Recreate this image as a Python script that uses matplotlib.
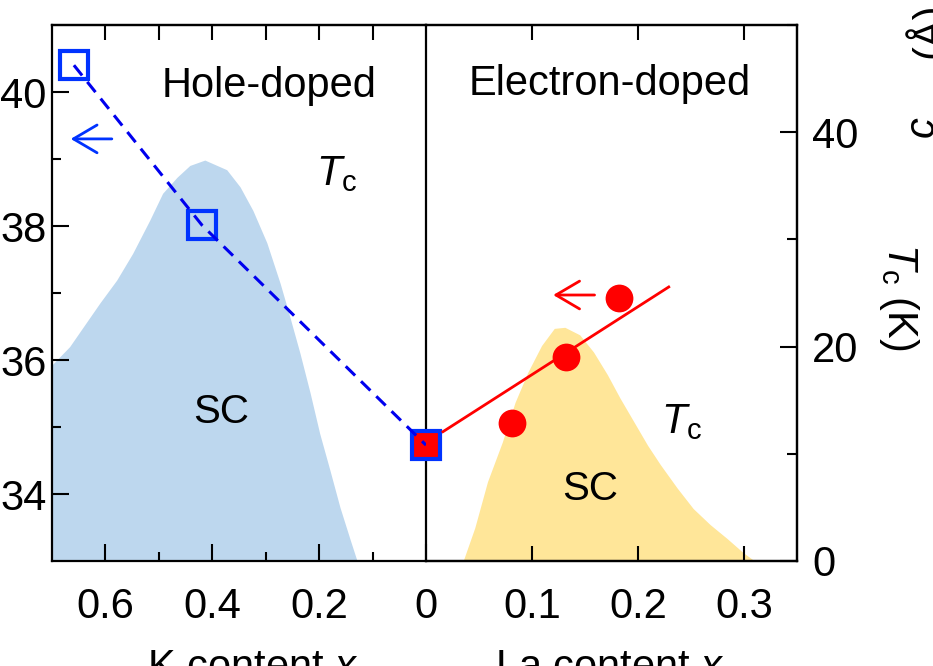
import matplotlib
matplotlib.use("Agg")
import matplotlib.pyplot as plt

plt.rcParams['font.family'] = ['Liberation Sans', 'DejaVu Sans']
plt.rcParams['mathtext.fontset'] = 'custom'
plt.rcParams['mathtext.rm'] = 'Liberation Sans'
plt.rcParams['mathtext.it'] = 'Liberation Sans:italic'
plt.rcParams['font.size'] = 30

###############################################################
# data
###############################################################
# hole-doped side (K content x), c-axis length in Angstrom
k_x = [0.659, 0.419, 0.0]
k_c = [40.40, 38.01, 34.73]

# hole-doped Tc dome
k_dome_x  = [0.700, 0.667, 0.642, 0.610, 0.579, 0.549, 0.517, 0.493, 0.466, 0.442,
             0.414, 0.373, 0.348, 0.324, 0.298, 0.273, 0.255, 0.236, 0.217, 0.199,
             0.180, 0.161, 0.142, 0.129]
k_dome_tc = [18.3, 20.0, 21.8, 24.1, 26.2, 28.7, 31.8, 34.3, 35.8, 36.9,
             37.4, 36.5, 34.9, 32.7, 29.7, 25.9, 22.8, 19.4, 15.7, 11.9,
             8.5, 5.0, 2.0, 0.0]

# parent compound (x = 0)
parent_c = 34.73

# electron-doped side (La content x)
la_x = [0.081, 0.132, 0.182]
la_c = [35.06, 36.04, 36.93]
la_fit_x = [0.016, 0.229]
la_fit_c = [34.93, 37.09]

# electron-doped Tc dome
la_dome_x  = [0.035, 0.046, 0.058, 0.072, 0.084, 0.096, 0.109, 0.121, 0.131, 0.145,
              0.158, 0.171, 0.183, 0.196, 0.209, 0.221, 0.237, 0.252, 0.268, 0.284,
              0.299, 0.310]
la_dome_tc = [0.0, 3.1, 7.4, 11.1, 14.8, 17.6, 20.1, 21.7, 21.8, 21.1,
              19.5, 17.4, 15.2, 13.0, 10.8, 9.0, 6.8, 4.9, 3.4, 2.1,
              0.8, 0.0]

k_ticks = [0.6, 0.4, 0.2, 0.0]
k_tick_labels = ['0.6', '0.4', '0.2', '0']
la_ticks = [0.1, 0.2, 0.3]
la_tick_labels = ['0.1', '0.2', '0.3']
c_ticks = [34, 36, 38, 40]
tc_ticks = [0, 20, 40]

blue_fill = '#BDD7EE'
yellow_fill = '#FFE699'
blue = '#0033FF'
red = '#FF0000'

###############################################################
# axes
###############################################################
W, H = 933, 666
fig = plt.figure(figsize=(W / 100, H / 100), dpi=100)

axL = fig.add_axes([52 / W, 105 / H, 374 / W, 536 / H])
axR = fig.add_axes([426 / W, 105 / H, 371 / W, 536 / H])
tL = axL.twinx()
tR = axR.twinx()

for ax, t in ((axL, tL), (axR, tR)):
    t.set_zorder(0)
    ax.set_zorder(1)
    ax.patch.set_visible(False)
    for s in list(ax.spines.values()) + list(t.spines.values()):
        s.set_linewidth(1.6)

tick_kw = dict(direction='in', width=1.5, color='black')

# left panel: hole-doped
axL.set_xlim(0.7, 0.0)
axL.set_ylim(33, 41)
axL.set_xticks(k_ticks, k_tick_labels)
axL.set_xticks([0.5, 0.3, 0.1], minor=True)
axL.set_yticks(c_ticks)
axL.set_yticks([35, 37, 39], minor=True)
axL.tick_params(which='major', length=12, pad=4, **tick_kw)
axL.tick_params(which='minor', length=6.5, **tick_kw)
axL.tick_params(axis='x', which='major', pad=19)
axL.tick_params(right=False, top=False, which='both')
axL.spines['right'].set_zorder(3)

topL = axL.secondary_xaxis('top')
topL.set_xticks([0.6, 0.5, 0.4, 0.3, 0.2, 0.1])
topL.tick_params(length=11, labeltop=False, **tick_kw)
topL.spines['top'].set_linewidth(1.6)

tL.set_ylim(0, 50)
tL.set_yticks([])
for s in tL.spines.values():
    s.set_visible(False)

# right panel: electron-doped
axR.set_xlim(0.0, 0.35)
axR.set_ylim(33, 41)
axR.set_xticks(la_ticks, la_tick_labels)
axR.set_yticks([])
axR.tick_params(which='major', length=11, pad=19, top=True, **tick_kw)
axR.spines['left'].set_visible(False)

tR.set_ylim(0, 50)
tR.set_yticks(tc_ticks)
tR.set_yticks([10, 30, 50], minor=True)
tR.tick_params(which='major', length=12, pad=11, **tick_kw)
tR.tick_params(which='minor', length=7, **tick_kw)
tR.spines['left'].set_visible(False)

###############################################################
# Tc domes
###############################################################
tL.fill_between(k_dome_x, 0, k_dome_tc, color=blue_fill, lw=0)
tR.fill_between(la_dome_x, 0, la_dome_tc, color=yellow_fill, lw=0)

###############################################################
# c-axis data
###############################################################
axL.plot(k_x, k_c, color='#0000EE', lw=2.2, dashes=(4.3, 2.7), zorder=6)
axL.plot(k_x[:2], k_c[:2], 's', ms=20.5, mfc='none', mec=blue, mew=3, zorder=4)
axL.plot([0.0], [parent_c], 's', ms=20.5, mfc=red, mec=blue, mew=3,
         clip_on=False, zorder=5)

axR.plot(la_fit_x, la_fit_c, color=red, lw=2, zorder=3)
axR.plot(la_x, la_c, 'o', ms=20, color=red, mec='none', zorder=4)

# arrows pointing to the c-axis scale
arrow = '->,head_length=0.85,head_width=0.5'
axL.annotate('', xy=(0.665, 39.30), xytext=(0.588, 39.30),
             arrowprops=dict(arrowstyle=arrow, color=blue, lw=2,
                             mutation_scale=20, shrinkA=0, shrinkB=0))
axR.annotate('', xy=(0.120, 36.97), xytext=(0.159, 36.97),
             arrowprops=dict(arrowstyle=arrow, color=red, lw=2,
                             mutation_scale=20, shrinkA=0, shrinkB=0))

###############################################################
# labels
###############################################################
axL.text(0.494, 39.93, 'Hole-doped', ha='left', va='baseline')
axL.text(0.206, 38.61, r'$T_\mathrm{c}$', ha='left', va='baseline')
axL.text(0.436, 35.06, 'SC', ha='left', va='baseline', fontsize=29)

axR.text(0.040, 39.96, 'Electron-doped', ha='left', va='baseline')
axR.text(0.222, 34.91, r'$T_\mathrm{c}$', ha='left', va='baseline')
axR.text(0.128, 33.91, 'SC', ha='left', va='baseline', fontsize=29)

fig.text(253 / W, 1 - 648 / H, r'K content $x$', ha='center', va='top')
fig.text(610 / W, 1 - 648 / H, r'La content $x$', ha='center', va='top')
fig.text(921 / W, 1 - 297 / H, r'$T_\mathrm{c}$ (K)', rotation=270,
         ha='right', va='center')
fig.text(904 / W, 1 - 30 / H, '(Å)', rotation=90, ha='left', va='center')
fig.text(904 / W, 1 - 128 / H, r'$c$', rotation=90, ha='left', va='center')

fig.savefig('out.png', dpi=100)
